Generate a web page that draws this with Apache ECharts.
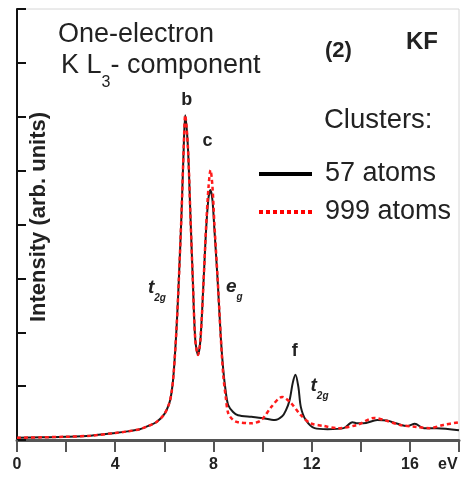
<!DOCTYPE html>
<html>
<head>
<meta charset="utf-8">
<script src="https://cdn.jsdelivr.net/npm/echarts@6/dist/echarts.min.js"></script>
<style>
  html, body { margin: 0; padding: 0; background: #fff; }
  #chart { width: 462px; height: 477px; }
</style>
</head>
<body>
<div id="chart"></div>
<script>
// Photon energy (eV) and intensity for the 57-atom cluster
const energy57 = [0, 1, 2, 3, 4, 4.5, 5.0, 5.4, 5.7, 6.0, 6.2, 6.3, 6.38, 6.5, 6.59, 6.7, 6.79, 6.85,
  6.96, 7.06, 7.16, 7.26, 7.37, 7.47, 7.6, 7.7, 7.8, 7.88, 7.96, 8.04, 8.17, 8.3, 8.4, 8.5, 8.6, 8.8,
  9.0, 9.55, 9.95, 10.5, 10.8, 10.95, 11.1, 11.23, 11.34, 11.46, 11.56, 11.76, 12.12, 12.65, 13.3,
  13.66, 13.86, 14.1, 14.67, 15.07, 15.5, 15.9, 16.2, 16.57, 17.1, 18];
const intensity57 = [0.04, 0.05, 0.06, 0.08, 0.13, 0.16, 0.2, 0.27, 0.34, 0.48, 0.68, 0.9, 1.24, 2.1, 2.97, 4.2, 5.44, 6.03,
  5.44, 4.2, 2.97, 1.86, 1.58, 1.86, 2.97, 3.9, 4.5, 4.64, 4.45, 3.9, 2.97, 1.9, 1.3, 0.9, 0.65, 0.52,
  0.46, 0.43, 0.41, 0.37, 0.44, 0.55, 0.74, 1.06, 1.21, 0.98, 0.61, 0.37, 0.22, 0.2, 0.22,
  0.33, 0.31, 0.31, 0.37, 0.36, 0.3, 0.26, 0.3, 0.22, 0.22, 0.18];

// Photon energy (eV) and intensity for the 999-atom cluster
const energy999 = [0, 1, 2, 3, 4, 4.5, 5.0, 5.4, 5.7, 6.0, 6.2, 6.3, 6.38, 6.5, 6.59, 6.7, 6.79, 6.85,
  6.96, 7.06, 7.16, 7.26, 7.37, 7.47, 7.6, 7.7, 7.8, 7.88, 7.96, 8.04, 8.17, 8.3, 8.4, 8.5, 8.6, 8.8,
  9.0, 9.55, 9.95, 10.35, 10.8, 11.15, 11.56, 11.96, 12.5, 13.05, 13.86, 14.55, 14.95, 15.6, 16.3,
  16.8, 17.37, 18];
const intensity999 = [0.04, 0.05, 0.06, 0.08, 0.13, 0.16, 0.2, 0.27, 0.34, 0.48, 0.68, 0.9, 1.24, 2.1, 2.97, 4.2, 5.44, 6.03,
  5.44, 4.2, 2.97, 1.86, 1.58, 1.86, 2.97, 3.95, 4.7, 5.01, 4.7, 4.0, 3.0, 1.9, 1.2, 0.8, 0.5, 0.37,
  0.33, 0.31, 0.37, 0.61, 0.8, 0.69, 0.46, 0.31, 0.26, 0.22, 0.28, 0.41, 0.37, 0.28, 0.24,
  0.22, 0.28, 0.33];

const seriesNames = ['57 atoms', '999 atoms'];
const xTicks = [0, 4, 8, 12, 16];

// Peak annotations: [energy, intensity, label key]
const peakNotes = [
  [6.91, 6.31, 'b'],
  [7.76, 5.55, 'c'],
  [5.7, 2.82, 't2g'],
  [8.85, 2.84, 'eg'],
  [11.31, 1.65, 'f'],
  [12.32, 1.0, 't2g']
];

const FONT = '"Liberation Sans", Arial, Helvetica, sans-serif';
const INK = '#222';

function pairs(xs, ys) { return xs.map((x, i) => [x, ys[i]]); }

const noteRich = {
  b: { fontFamily: FONT, fontSize: 18, fontWeight: 'bold', color: INK },
  it: { fontFamily: FONT, fontSize: 19, fontWeight: 'bold', fontStyle: 'italic', color: INK, lineHeight: 30, verticalAlign: 'middle' },
  sub: { fontFamily: FONT, fontSize: 10, fontWeight: 'bold', fontStyle: 'italic', color: INK, lineHeight: 12, verticalAlign: 'bottom' }
};
function noteText(key) {
  if (key === 't2g') return '{it|t}{sub|2g}';
  if (key === 'eg') return '{it|e}{sub|g}';
  return '{b|' + key + '}';
}

const chart = echarts.init(document.getElementById('chart'), null, { renderer: 'canvas' });

chart.setOption({
  animation: false,
  backgroundColor: '#fff',
  grid: { left: 17, right: 0, top: 9, bottom: 37, show: true, borderColor: '#d6d6d6', borderWidth: 1 },
  xAxis: {
    type: 'value', min: 0, max: 18, interval: 2,
    axisLine: { show: true, onZero: false, lineStyle: { color: '#555', width: 3 } },
    axisTick: { show: true, inside: false, length: 12, lineStyle: { color: '#555', width: 2 } },
    axisLabel: {
      margin: 17, fontFamily: FONT, fontSize: 16, fontWeight: 'bold', color: INK,
      formatter: v => (xTicks.indexOf(v) >= 0 ? String(v) : '')
    },
    splitLine: { show: false }
  },
  yAxis: {
    type: 'value', min: 0, max: 8, interval: 1,
    axisLine: { show: true, lineStyle: { color: '#111', width: 2 } },
    axisTick: { show: true, inside: true, length: 9, lineStyle: { color: '#111', width: 2 } },
    axisLabel: { show: false },
    splitLine: { show: false }
  },
  legend: {
    orient: 'vertical', left: 257, top: 160, padding: 0,
    itemWidth: 53, itemHeight: 14, itemGap: 10,
    textStyle: { fontFamily: FONT, fontSize: 27, color: INK, lineHeight: 28, padding: [0, 0, 0, 8] },
    data: [
      { name: seriesNames[0], itemStyle: { opacity: 0 }, lineStyle: { width: 4, color: '#000', type: 'solid' } },
      { name: seriesNames[1], itemStyle: { opacity: 0 }, lineStyle: { width: 4, color: '#ff0000', type: [4, 3] } }
    ]
  },
  series: [
    {
      name: seriesNames[0], type: 'line', data: pairs(energy57, intensity57),
      showSymbol: false, symbol: 'none', smooth: 0.3,
      lineStyle: { color: '#1a1a1a', width: 2 },
      itemStyle: { color: '#000' },
      z: 2,
      markPoint: {
        symbol: 'circle', symbolSize: 0, silent: true,
        label: { show: true, position: 'inside', formatter: p => noteText(p.name), rich: noteRich },
        data: peakNotes.map(n => ({ name: n[2], coord: [n[0], n[1]] }))
      }
    },
    {
      name: seriesNames[1], type: 'line', data: pairs(energy999, intensity999),
      showSymbol: false, symbol: 'none', smooth: 0.3,
      lineStyle: { color: '#ff1a1a', width: 2.5, type: [4, 3] },
      itemStyle: { color: '#ff0000' },
      z: 3
    }
  ],
  graphic: [
    { type: 'text', left: 58, top: 21, style: { text: 'One-electron', font: '27px ' + FONT, fill: INK } },
    {
      type: 'text', left: 61, top: 52,
      style: {
        text: '{n|K L}{s|3}{n|- component}',
        rich: {
          n: { fontFamily: FONT, fontSize: 27, lineHeight: 50, verticalAlign: 'middle', fill: INK, color: INK },
          s: { fontFamily: FONT, fontSize: 16, lineHeight: 16, verticalAlign: 'bottom', fill: INK, color: INK }
        }
      }
    },
    { type: 'text', left: 325, top: 40, style: { text: '(2)', font: 'bold 22px ' + FONT, fill: INK } },
    { type: 'text', left: 406, top: 30, style: { text: 'KF', font: 'bold 24px ' + FONT, fill: INK } },
    { type: 'text', left: 324, top: 106, style: { text: 'Clusters:', font: '27.5px ' + FONT, fill: INK } },
    { type: 'text', left: 438, top: 457, style: { text: 'eV', font: 'bold 16px ' + FONT, fill: INK } },
    {
      type: 'text', x: 39, y: 217, rotation: Math.PI / 2,
      style: { text: 'Intensity (arb. units)', font: 'bold 22px ' + FONT, fill: INK, align: 'center', verticalAlign: 'middle' }
    }
  ]
});
</script>
</body>
</html>
